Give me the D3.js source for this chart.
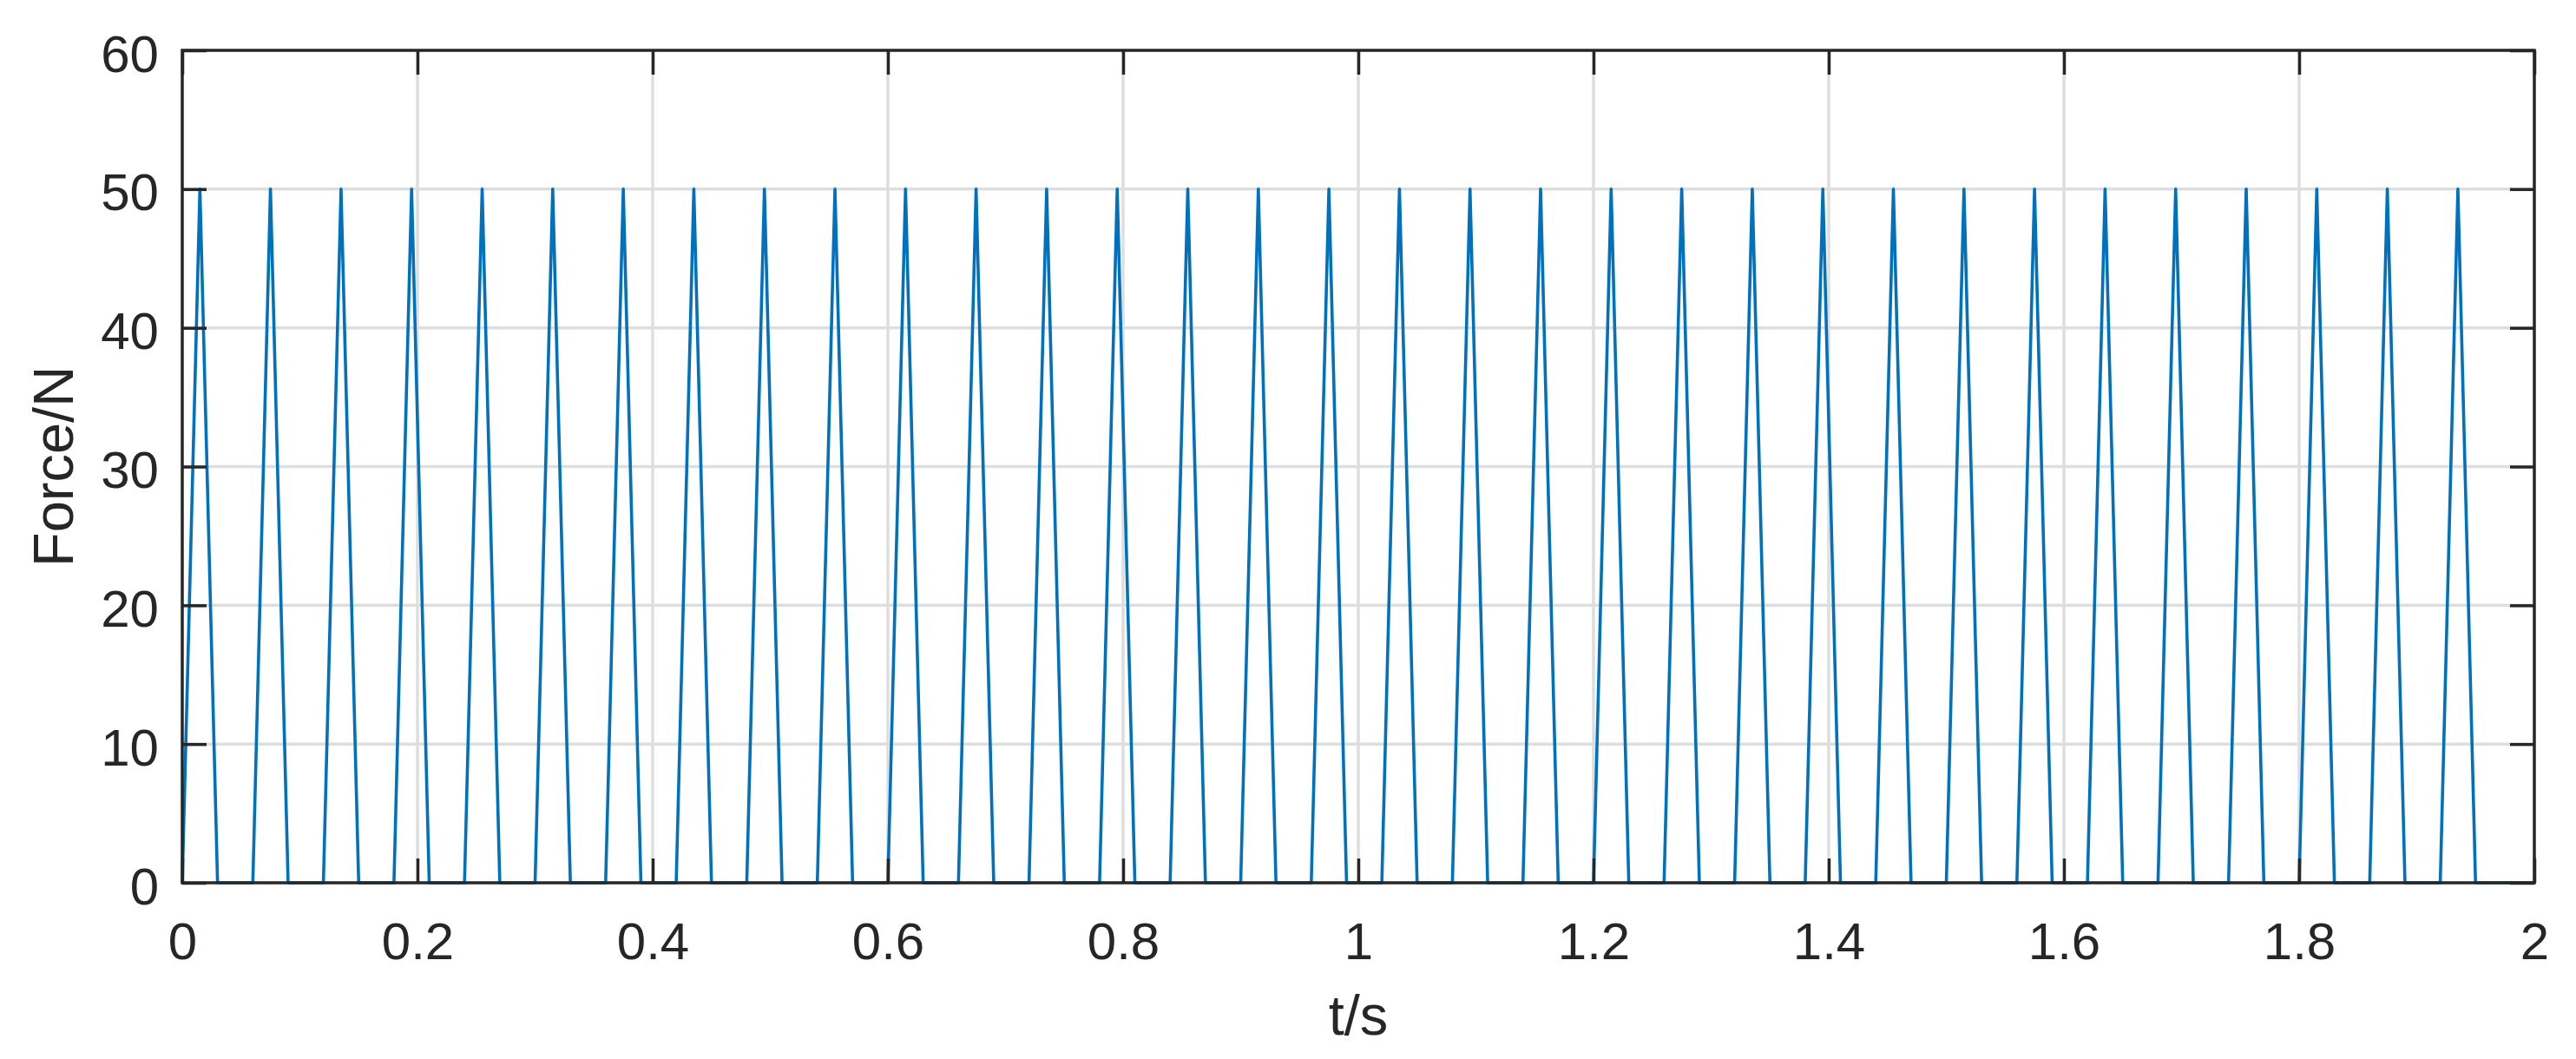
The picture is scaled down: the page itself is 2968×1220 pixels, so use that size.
<!DOCTYPE html>
<html lang="en">
<head>
  <meta charset="UTF-8">
  <title>Force vs time</title>
  <style>
    html, body { margin: 0; padding: 0; background: #ffffff; }
    svg { display: block; }
    text { font-family: "Liberation Sans", Arial, Helvetica, sans-serif; fill: #262626; }
    .axis-title { font-size: 65px; }
  </style>
</head>
<body>
<div id="chart"></div>

<script src="https://d3js.org/d3.v7.min.js"></script>
<script>
  // Sample times (s) of the force signal
  const timeS = [
    0.000, 0.015, 0.030, 0.060, 0.075, 0.090, 0.120, 0.135, 0.150,
    0.180, 0.195, 0.210, 0.240, 0.255, 0.270, 0.300, 0.315, 0.330,
    0.360, 0.375, 0.390, 0.420, 0.435, 0.450, 0.480, 0.495, 0.510,
    0.540, 0.555, 0.570, 0.600, 0.615, 0.630, 0.660, 0.675, 0.690,
    0.720, 0.735, 0.750, 0.780, 0.795, 0.810, 0.840, 0.855, 0.870,
    0.900, 0.915, 0.930, 0.960, 0.975, 0.990, 1.020, 1.035, 1.050,
    1.080, 1.095, 1.110, 1.140, 1.155, 1.170, 1.200, 1.215, 1.230,
    1.260, 1.275, 1.290, 1.320, 1.335, 1.350, 1.380, 1.395, 1.410,
    1.440, 1.455, 1.470, 1.500, 1.515, 1.530, 1.560, 1.575, 1.590,
    1.620, 1.635, 1.650, 1.680, 1.695, 1.710, 1.740, 1.755, 1.770,
    1.800, 1.815, 1.830, 1.860, 1.875, 1.890, 1.920, 1.935, 1.950,
    2.000
  ];

  // Force values (N) at those times
  const forceN = [
    0, 50, 0, 0, 50, 0, 0, 50, 0,
    0, 50, 0, 0, 50, 0, 0, 50, 0,
    0, 50, 0, 0, 50, 0, 0, 50, 0,
    0, 50, 0, 0, 50, 0, 0, 50, 0,
    0, 50, 0, 0, 50, 0, 0, 50, 0,
    0, 50, 0, 0, 50, 0, 0, 50, 0,
    0, 50, 0, 0, 50, 0, 0, 50, 0,
    0, 50, 0, 0, 50, 0, 0, 50, 0,
    0, 50, 0, 0, 50, 0, 0, 50, 0,
    0, 50, 0, 0, 50, 0, 0, 50, 0,
    0, 50, 0, 0, 50, 0, 0, 50, 0,
    0
  ];

  const xTicks = [0, 0.2, 0.4, 0.6, 0.8, 1, 1.2, 1.4, 1.6, 1.8, 2];
  const yTicks = [0, 10, 20, 30, 40, 50, 60];

  const width = 2968;
  const height = 1220;
  const margin = { top: 58, right: 48, bottom: 203, left: 210 };
  const plotW = width - margin.left - margin.right;
  const plotH = height - margin.top - margin.bottom;

  const svg = d3.select('#chart')
    .append('svg')
    .attr('width', width)
    .attr('height', height);

  const g = svg.append('g')
    .attr('transform', `translate(${margin.left},${margin.top})`);

  const x = d3.scaleLinear().domain([0, 2]).range([0, plotW]);
  const y = d3.scaleLinear().domain([0, 60]).range([plotH, 0]);

  // grid
  g.append('g').selectAll('line')
    .data(xTicks.slice(1, -1))
    .join('line')
    .attr('x1', d => x(d)).attr('x2', d => x(d))
    .attr('y1', 0).attr('y2', plotH)
    .attr('stroke', '#dedede').attr('stroke-width', 3.5);

  g.append('g').selectAll('line')
    .data(yTicks.slice(1, -1))
    .join('line')
    .attr('x1', 0).attr('x2', plotW)
    .attr('y1', d => y(d)).attr('y2', d => y(d))
    .attr('stroke', '#dedede').attr('stroke-width', 3.5);

  // force signal
  const points = timeS.map((t, i) => [t, forceN[i]]);
  const line = d3.line()
    .x(d => x(d[0]))
    .y(d => y(d[1]));

  g.append('path')
    .datum(points)
    .attr('d', line)
    .attr('fill', 'none')
    .attr('stroke', '#0072bd')
    .attr('stroke-width', 3.6)
    .attr('stroke-linejoin', 'round');

  // axes (ticks point inward, like matlab)
  const tickLen = 28;
  const fmt = d => String(d);

  const styleAxis = sel => {
    sel.select('.domain').remove();
    sel.selectAll('.tick line').attr('stroke', '#262626').attr('stroke-width', 3.5);
  };

  g.append('g')
    .attr('transform', `translate(0,${plotH})`)
    .call(d3.axisBottom(x).tickValues(xTicks).tickFormat(fmt)
      .tickSizeInner(-tickLen).tickSizeOuter(0).tickPadding(45))
    .call(styleAxis);

  g.append('g')
    .call(d3.axisTop(x).tickValues(xTicks).tickFormat('')
      .tickSizeInner(-tickLen).tickSizeOuter(0))
    .call(styleAxis);

  g.append('g')
    .call(d3.axisLeft(y).tickValues(yTicks).tickFormat(fmt)
      .tickSizeInner(-tickLen).tickSizeOuter(0).tickPadding(27))
    .call(styleAxis)
    .selectAll('.tick text').attr('dy', '0.4em');

  g.append('g')
    .attr('transform', `translate(${plotW},0)`)
    .call(d3.axisRight(y).tickValues(yTicks).tickFormat('')
      .tickSizeInner(-tickLen).tickSizeOuter(0))
    .call(styleAxis);

  g.selectAll('.tick text')
    .attr('fill', '#262626')
    .style('font-family', '"Liberation Sans", Arial, sans-serif')
    .style('font-size', '60px');

  // box
  g.append('rect')
    .attr('x', 0).attr('y', 0)
    .attr('width', plotW).attr('height', plotH)
    .attr('fill', 'none')
    .attr('stroke', '#262626')
    .attr('stroke-width', 3.5);

  // axis titles
  svg.append('text')
    .attr('class', 'axis-title')
    .attr('x', margin.left + plotW / 2)
    .attr('y', 1192)
    .attr('text-anchor', 'middle')
    .text('t/s');

  svg.append('text')
    .attr('class', 'axis-title')
    .attr('transform', `translate(84,${margin.top + plotH / 2}) rotate(-90)`)
    .attr('text-anchor', 'middle')
    .text('Force/N');
</script>
</body>
</html>
